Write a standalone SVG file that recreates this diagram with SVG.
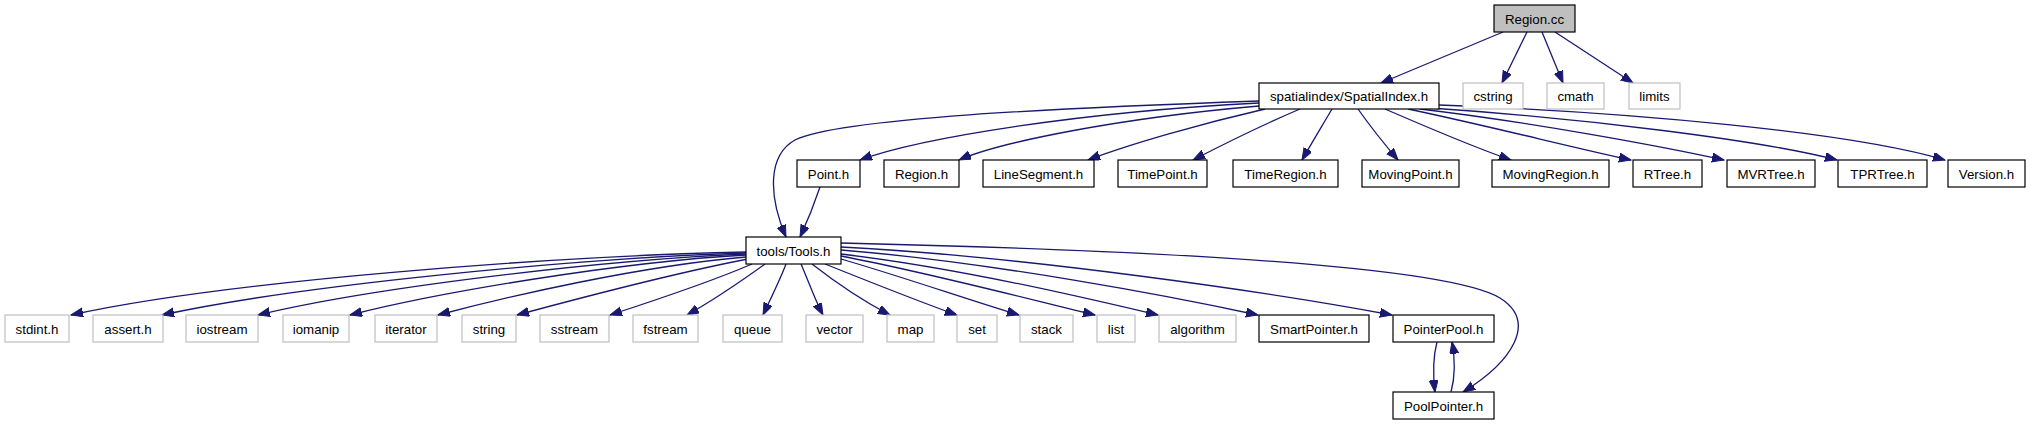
<svg xmlns="http://www.w3.org/2000/svg" width="2031" height="427" viewBox="0 0 2031 427">
<style>
.n rect{fill:#fff;stroke:#000;stroke-width:1.2}
.n.g rect{stroke:#bfbfbf}
.n.root rect{fill:#bfbfbf}
.n text{font-family:"Liberation Sans",Arial,sans-serif;font-size:13.3px;fill:#000;text-anchor:middle}
#edges path{fill:none;stroke:#191970;stroke-width:1.3;marker-end:url(#ah)}
</style>
<defs>
<marker id="ah" markerUnits="userSpaceOnUse" markerWidth="13" markerHeight="10" refX="12" refY="4.5" orient="auto">
<path d="M0,0 L12,4.5 L0,9 z" fill="#191970" stroke="#191970" stroke-width="1"/>
</marker>
</defs>
<rect width="2031" height="427" fill="#fff"/>
<g id="edges">
<path d="M1503,32 L1381,83"/>
<path d="M1527,32 L1502,83"/>
<path d="M1542,32 L1563,83"/>
<path d="M1555,32 L1633,83"/>
<path d="M1259,101 C1060,108 840,118 795,140 C768,155 768,195 786,237"/>
<path d="M1259,103 C1080,112 920,138 860,160"/>
<path d="M1259,106 C1120,118 1000,142 959,160"/>
<path d="M1265,109 C1200,124 1130,144 1088,160"/>
<path d="M1300,109 C1260,126 1220,146 1193,160"/>
<path d="M1332,109 C1322,126 1310,146 1302,160"/>
<path d="M1358,109 C1370,126 1386,146 1398,160"/>
<path d="M1385,109 C1420,124 1470,146 1511,160"/>
<path d="M1408,109 C1480,124 1575,148 1631,160"/>
<path d="M1420,109 C1530,122 1660,146 1724,160"/>
<path d="M1430,108 C1580,118 1760,140 1837,160"/>
<path d="M1439,105 C1630,112 1850,132 1945,160"/>
<path d="M820,187 C815,202 808,220 800,237"/>
<path d="M746,252 C560,256 230,280 71,315"/>
<path d="M746,253 C580,258 300,285 162,315"/>
<path d="M746,254 C600,260 370,288 258,315"/>
<path d="M746,255 C620,262 440,292 350,315"/>
<path d="M746,257 C640,266 510,296 438,315"/>
<path d="M748,259 C680,272 580,298 517,315"/>
<path d="M752,264 C715,280 650,302 610,315"/>
<path d="M765,264 C740,282 710,302 687,315"/>
<path d="M786,264 C780,280 770,300 763,315"/>
<path d="M801,264 C808,280 815,300 823,315"/>
<path d="M812,264 C835,282 865,302 890,315"/>
<path d="M825,264 C870,282 920,302 957,315"/>
<path d="M841,259 C900,276 975,302 1019,315"/>
<path d="M841,256 C930,273 1040,302 1095,315"/>
<path d="M841,254 C960,268 1090,299 1158,315"/>
<path d="M841,250 C990,262 1170,296 1258,315"/>
<path d="M841,247 C1020,256 1270,292 1392,315"/>
<path d="M841,243 C1100,249 1440,262 1500,298 C1538,322 1512,362 1463,392"/>
<path d="M1437,342 C1433,357 1433,375 1435,392"/>
<path d="M1451,392 C1455,377 1455,358 1452,342"/>
</g>
<g id="n_region_cc" class="n root"><rect x="1494" y="5" width="81" height="27"/><text x="1534.5" y="23.5">Region.cc</text></g>
<g id="n_spatialindex" class="n"><rect x="1259" y="83" width="180" height="26"/><text x="1349" y="101">spatialindex/SpatialIndex.h</text></g>
<g id="n_cstring" class="n g"><rect x="1463" y="83" width="60" height="26"/><text x="1493" y="101">cstring</text></g>
<g id="n_cmath" class="n g"><rect x="1547" y="83" width="57" height="26"/><text x="1575.5" y="101">cmath</text></g>
<g id="n_limits" class="n g"><rect x="1629" y="83" width="51" height="26"/><text x="1654.5" y="101">limits</text></g>
<g id="n_point" class="n"><rect x="797" y="160" width="63" height="27"/><text x="828.5" y="178.5">Point.h</text></g>
<g id="n_regionh" class="n"><rect x="884" y="160" width="75" height="27"/><text x="921.5" y="178.5">Region.h</text></g>
<g id="n_linesegment" class="n"><rect x="983" y="160" width="111" height="27"/><text x="1038.5" y="178.5">LineSegment.h</text></g>
<g id="n_timepoint" class="n"><rect x="1118" y="160" width="89" height="27"/><text x="1162.5" y="178.5">TimePoint.h</text></g>
<g id="n_timeregion" class="n"><rect x="1233" y="160" width="105" height="27"/><text x="1285.5" y="178.5">TimeRegion.h</text></g>
<g id="n_movingpoint" class="n"><rect x="1362" y="160" width="97" height="27"/><text x="1410.5" y="178.5">MovingPoint.h</text></g>
<g id="n_movingregion" class="n"><rect x="1492" y="160" width="117" height="27"/><text x="1550.5" y="178.5">MovingRegion.h</text></g>
<g id="n_rtree" class="n"><rect x="1633" y="160" width="69" height="27"/><text x="1667.5" y="178.5">RTree.h</text></g>
<g id="n_mvrtree" class="n"><rect x="1727" y="160" width="88" height="27"/><text x="1771" y="178.5">MVRTree.h</text></g>
<g id="n_tprtree" class="n"><rect x="1838" y="160" width="89" height="27"/><text x="1882.5" y="178.5">TPRTree.h</text></g>
<g id="n_version" class="n"><rect x="1948" y="160" width="77" height="27"/><text x="1986.5" y="178.5">Version.h</text></g>
<g id="n_tools" class="n"><rect x="746" y="237" width="95" height="27"/><text x="793.5" y="255.5">tools/Tools.h</text></g>
<g id="n_stdint" class="n g"><rect x="5" y="315" width="64" height="27"/><text x="37" y="333.5">stdint.h</text></g>
<g id="n_assert" class="n g"><rect x="93" y="315" width="70" height="27"/><text x="128" y="333.5">assert.h</text></g>
<g id="n_iostream" class="n g"><rect x="186" y="315" width="72" height="27"/><text x="222" y="333.5">iostream</text></g>
<g id="n_iomanip" class="n g"><rect x="283" y="315" width="66" height="27"/><text x="316" y="333.5">iomanip</text></g>
<g id="n_iterator" class="n g"><rect x="375" y="315" width="62" height="27"/><text x="406" y="333.5">iterator</text></g>
<g id="n_string" class="n g"><rect x="462" y="315" width="54" height="27"/><text x="489" y="333.5">string</text></g>
<g id="n_sstream" class="n g"><rect x="540" y="315" width="69" height="27"/><text x="574.5" y="333.5">sstream</text></g>
<g id="n_fstream" class="n g"><rect x="633" y="315" width="65" height="27"/><text x="665.5" y="333.5">fstream</text></g>
<g id="n_queue" class="n g"><rect x="723" y="315" width="59" height="27"/><text x="752.5" y="333.5">queue</text></g>
<g id="n_vector" class="n g"><rect x="806" y="315" width="57" height="27"/><text x="834.5" y="333.5">vector</text></g>
<g id="n_map" class="n g"><rect x="887" y="315" width="47" height="27"/><text x="910.5" y="333.5">map</text></g>
<g id="n_set" class="n g"><rect x="957" y="315" width="40" height="27"/><text x="977" y="333.5">set</text></g>
<g id="n_stack" class="n g"><rect x="1020" y="315" width="53" height="27"/><text x="1046.5" y="333.5">stack</text></g>
<g id="n_list" class="n g"><rect x="1097" y="315" width="38" height="27"/><text x="1116" y="333.5">list</text></g>
<g id="n_algorithm" class="n g"><rect x="1159" y="315" width="77" height="27"/><text x="1197.5" y="333.5">algorithm</text></g>
<g id="n_smartpointer" class="n"><rect x="1259" y="315" width="110" height="27"/><text x="1314" y="333.5">SmartPointer.h</text></g>
<g id="n_pointerpool" class="n"><rect x="1393" y="315" width="101" height="27"/><text x="1443.5" y="333.5">PointerPool.h</text></g>
<g id="n_poolpointer" class="n"><rect x="1393" y="392" width="101" height="27"/><text x="1443.5" y="410.5">PoolPointer.h</text></g>
</svg>
